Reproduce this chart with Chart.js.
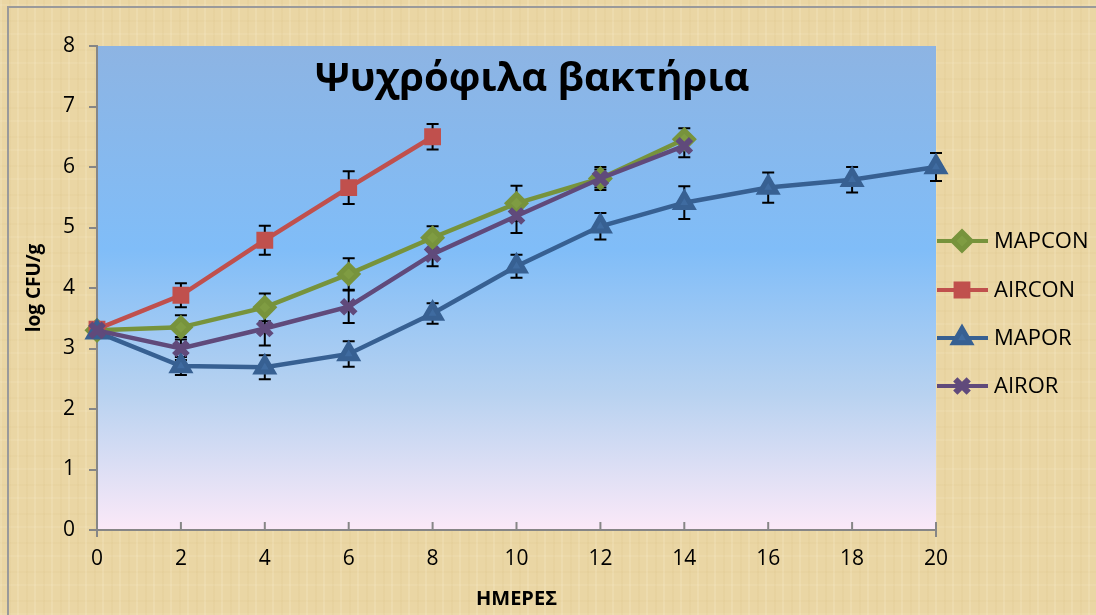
<!DOCTYPE html>
<html>
<head>
<meta charset="utf-8">
<script src="https://cdn.jsdelivr.net/npm/chart.js@4.4.1/dist/chart.umd.min.js"></script>
<style>
  html, body { margin: 0; padding: 0; }
  body {
    width: 1096px; height: 615px; overflow: hidden; position: relative;
    background-color: #ead6a4;
    background-image:
      repeating-linear-gradient(90deg, rgba(255,246,222,0.16) 0 2px, rgba(0,0,0,0) 2px 9px, rgba(200,170,100,0.08) 9px 11px, rgba(0,0,0,0) 11px 17px),
      repeating-linear-gradient(0deg, rgba(255,246,222,0.1) 0 2px, rgba(0,0,0,0) 2px 13px, rgba(196,166,96,0.06) 13px 15px, rgba(0,0,0,0) 15px 29px);
  }
  #frame { position: absolute; left: 7px; top: 6px; right: -10px; bottom: -10px;
    border-left: 2px solid #9a9a9a; border-top: 2px solid #9a9a9a; }
  #wrap { position: absolute; left: 0; top: 0; width: 1096px; height: 615px; }
</style>
</head>
<body>
<div id="frame"></div>
<div id="wrap"><canvas id="chart" width="1096" height="615"></canvas></div>
<script>
// days on the x axis
const days = ['0', '2', '4', '6', '8', '10', '12', '14', '16', '18', '20'];

// log CFU/g values and error bar half-lengths
const mapcon = [3.30, 3.35, 3.68, 4.23, 4.83, 5.40, 5.81, 6.46];
const mapconErr = [0.05, 0.20, 0.23, 0.26, 0.19, 0.29, 0.19, 0.18];
const aircon = [3.32, 3.88, 4.79, 5.66, 6.50];
const airconErr = [0.05, 0.20, 0.24, 0.27, 0.21];
const mapor = [3.27, 2.71, 2.69, 2.91, 3.58, 4.36, 5.02, 5.41, 5.66, 5.79, 6.00];
const maporErr = [0.05, 0.15, 0.20, 0.21, 0.17, 0.19, 0.22, 0.27, 0.25, 0.21, 0.23];
const airor = [3.30, 3.00, 3.33, 3.69, 4.56, 5.19, 5.81, 6.35];
const airorErr = [0.05, 0.19, 0.28, 0.27, 0.20, 0.28, 0.15, 0.19];

const FONT = "'Open Sans', 'DejaVu Sans', sans-serif";

// gradient fill of the plot area
const plotBg = {
  id: 'plotBg',
  beforeDraw(chart) {
    const { ctx, chartArea: a } = chart;
    const g = ctx.createLinearGradient(0, a.top, 0, a.bottom);
    g.addColorStop(0, '#8db4e3');
    g.addColorStop(0.42, '#80bdf8');
    g.addColorStop(0.72, '#b8d2f0');
    g.addColorStop(1, '#fbe9f8');
    ctx.save();
    ctx.fillStyle = g;
    ctx.fillRect(a.left, a.top, a.right - a.left, a.bottom - a.top);
    ctx.restore();
  }
};

// black error bars with caps, under the lines
const errBars = {
  id: 'errBars',
  beforeDatasetsDraw(chart) {
    const { ctx, scales: { x, y } } = chart;
    ctx.save();
    ctx.strokeStyle = '#000';
    ctx.lineWidth = 2;
    chart.data.datasets.forEach(ds => {
      ds.err.forEach((e, j) => {
        const px = x.getPixelForValue(j);
        const t = y.getPixelForValue(ds.data[j] + e);
        const b = y.getPixelForValue(ds.data[j] - e);
        ctx.beginPath();
        ctx.moveTo(px, t); ctx.lineTo(px, b);
        ctx.moveTo(px - 6, t); ctx.lineTo(px + 6, t);
        ctx.moveTo(px - 6, b); ctx.lineTo(px + 6, b);
        ctx.stroke();
      });
    });
    ctx.restore();
  }
};

// x tick marks point into the plot, title and legend
const extras = {
  id: 'extras',
  afterDraw(chart) {
    const { ctx, chartArea: a, scales: { x } } = chart;
    ctx.save();
    ctx.strokeStyle = '#868686';
    ctx.lineWidth = 2;
    days.forEach((d, i) => {
      const px = x.getPixelForValue(i);
      ctx.beginPath();
      ctx.moveTo(px, a.bottom - 8);
      ctx.lineTo(px, a.bottom + (i === 0 || i === days.length - 1 ? 7 : 0));
      ctx.stroke();
    });

    ctx.fillStyle = '#000';
    ctx.font = `bold 40px ${FONT}`;
    ctx.textAlign = 'center';
    ctx.textBaseline = 'middle';
    ctx.fillText('Ψυχρόφιλα βακτήρια', 532, 80);

    const ys = [241, 290, 338, 386];
    ctx.font = `22px ${FONT}`;
    ctx.textAlign = 'left';
    chart.data.datasets.forEach((ds, i) => {
      const y = ys[i];
      ctx.strokeStyle = ds.borderColor;
      ctx.lineWidth = 4;
      ctx.beginPath();
      ctx.moveTo(937, y); ctx.lineTo(988, y);
      ctx.stroke();
      ctx.fillStyle = ds.pointBackgroundColor;
      ctx.strokeStyle = ds.borderColor;
      ctx.lineWidth = ds.pointBorderWidth;
      Chart.helpers.drawPoint(ctx, {
        pointStyle: ds.pointStyle, radius: ds.pointRadius, borderWidth: ds.pointBorderWidth, rotation: 0
      }, 962, y);
      ctx.fillStyle = '#000';
      ctx.fillText(ds.label, 994, y + 1);
    });
    ctx.restore();
  }
};

new Chart(document.getElementById('chart'), {
  type: 'line',
  data: {
    labels: days,
    datasets: [
      {
        label: 'MAPCON', data: mapcon, err: mapconErr, order: 3,
        borderColor: '#77933c', pointBackgroundColor: '#7f9c42',
        pointStyle: 'rectRot', pointRadius: 9, pointBorderWidth: 5,
      },
      {
        label: 'AIRCON', data: aircon, err: airconErr, order: 2,
        borderColor: '#c0504d', pointBackgroundColor: '#c0504d',
        pointStyle: 'rect', pointRadius: 10.5, pointBorderWidth: 2,
      },
      {
        label: 'MAPOR', data: mapor, err: maporErr, order: 1,
        borderColor: '#376092', pointBackgroundColor: '#3f6ba0',
        pointStyle: 'triangle', pointRadius: 9.5, pointBorderWidth: 5,
      },
      {
        label: 'AIROR', data: airor, err: airorErr, order: 0,
        borderColor: '#604a7b', pointBackgroundColor: '#604a7b',
        pointStyle: 'crossRot', pointRadius: 9.5, pointBorderWidth: 6,
      },
    ].map(d => ({ ...d, borderWidth: 4.5, pointBorderColor: d.borderColor, fill: false, tension: 0 })),
  },
  options: {
    responsive: false,
    animation: false,
    layout: { padding: { left: 0, top: 46, right: 160, bottom: 0 } },
    plugins: { legend: { display: false }, tooltip: { enabled: false } },
    scales: {
      x: {
        offset: false,
        afterFit: s => { s.height = 85; },
        grid: { display: false, drawTicks: false },
        border: { color: '#868686', width: 2 },
        ticks: { color: '#000', font: { family: FONT, size: 21 }, padding: 16, maxRotation: 0 },
        title: { display: true, text: 'ΗΜΕΡΕΣ', color: '#000', font: { family: FONT, size: 20, weight: 'bold' }, padding: { top: 0 } },
      },
      y: {
        min: 0, max: 8,
        afterFit: s => { s.width = 97; },
        grid: { drawOnChartArea: false, color: '#868686', lineWidth: 2, tickLength: 8 },
        border: { color: '#868686', width: 2 },
        ticks: { stepSize: 1, color: '#000', font: { family: FONT, size: 21 }, padding: 14 },
        title: { display: true, text: 'log CFU/g', color: '#000', font: { family: FONT, size: 19, weight: 'bold' }, padding: { top: 23 } },
      },
    },
  },
  plugins: [plotBg, errBars, extras],
});
</script>
</body>
</html>
